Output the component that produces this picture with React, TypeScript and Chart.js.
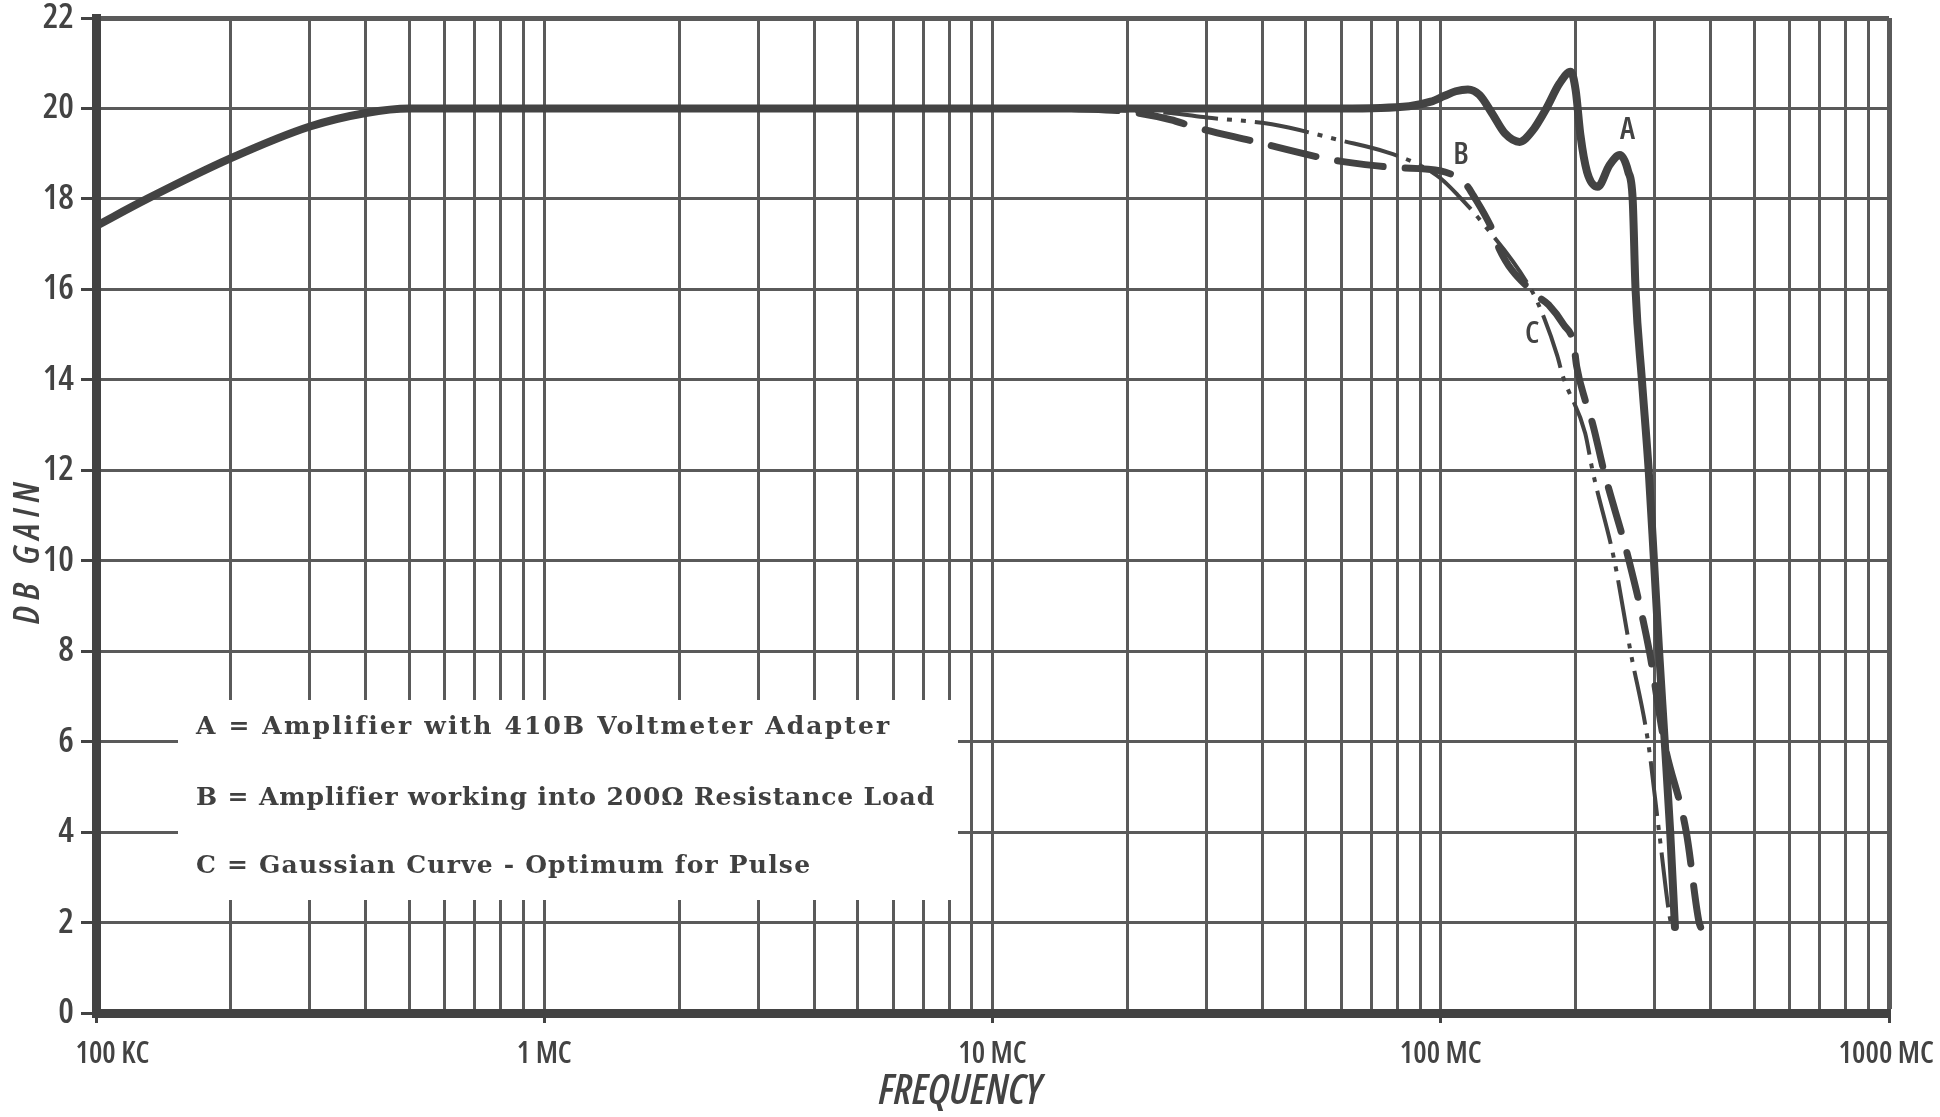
import React, { useEffect, useRef } from 'react';
import { Chart, registerables } from 'chart.js';

Chart.register(...registerables);

// ---- Data (frequency in MHz, gain in dB) ----
const freqA = [0.1, 0.13, 0.2, 0.3, 0.4, 0.5, 0.7, 1, 10, 60, 85, 95, 102, 108, 115, 122, 130, 139, 150, 160, 172, 184, 195, 200, 205, 212, 224, 238, 251, 262, 268, 272, 281, 291, 299, 307, 316, 325, 333];
const gainA = [17.4, 18.0, 18.9, 19.6, 19.9, 20.0, 20.0, 20.0, 20.0, 20.0, 20.05, 20.15, 20.28, 20.38, 20.42, 20.3, 19.9, 19.45, 19.26, 19.5, 20.0, 20.55, 20.81, 20.4, 19.4, 18.6, 18.27, 18.75, 18.97, 18.6, 18.0, 16.0, 14.0, 12.0, 10.0, 8.0, 6.0, 4.0, 1.9];

const freqB = [15, 20, 25, 28, 38, 56, 60, 80, 100, 114, 118, 132, 135, 162, 174, 188, 198, 201, 210, 218, 231, 263, 292, 315, 353, 377, 380];
const gainB = [20.0, 19.93, 19.75, 19.6, 19.28, 18.88, 18.83, 18.69, 18.62, 18.31, 18.09, 17.19, 16.9, 15.9, 15.66, 15.22, 14.79, 14.3, 13.55, 13.04, 12.0, 10.0, 8.0, 6.0, 4.0, 2.0, 1.9];

const freqC = [15, 20, 25, 30, 42, 60, 76, 90, 100, 109, 122, 160, 170, 182, 187, 210, 218, 244, 265, 290, 307, 326, 330];
const gainC = [20.0, 19.95, 19.9, 19.8, 19.65, 19.29, 19.03, 18.74, 18.45, 18.09, 17.55, 15.95, 15.37, 14.53, 14.1, 12.82, 12.0, 10.0, 8.0, 6.0, 4.0, 2.0, 1.9];

// ---- Axis ticks ----
const xDecades = [0.1, 1, 10, 100];
const xMultipliers = [1, 2, 3, 4, 5, 6, 7, 8, 9];
const xMax = 1000;
const xLabelValues = [0.1, 1, 10, 100, 1000];
const xLabelTexts = ['100 KC', '1 MC', '10 MC', '100 MC', '1000 MC'];
const yMin = 0;
const yMax = 22;
const yStep = 2;

// ---- Texts ----
const xTitle = 'FREQUENCY';
const yTitle = 'D B   G A I N';
const legendLines = [
  'A = Amplifier with 410B Voltmeter Adapter',
  'B = Amplifier working into 200Ω Resistance Load',
  'C = Gaussian Curve - Optimum for Pulse',
];
const curveLabels = ['A', 'B', 'C'];
const curveLabelFreq = [261, 111, 160];
const curveLabelGain = [19.52, 18.97, 15.02];

const SERIF = "'DejaVu Serif', 'Liberation Serif', serif";
const INK = '#434343';
const GRID = '#5a5a5a';

const xGridValues: number[] = [];
xDecades.forEach((d) => xMultipliers.forEach((m) => xGridValues.push(parseFloat((m * d).toPrecision(6)))));
xGridValues.push(xMax);

const isLabelValue = (v: number) => xLabelValues.findIndex((l) => Math.abs(l - v) / l < 1e-6);

type NarrowFont = { family: string; weight: string; condensed: boolean };

// find the narrowest sans face available on this machine
function pickNarrowFont(): NarrowFont {
  const c = document.createElement('canvas').getContext('2d') as CanvasRenderingContext2D;
  const test = '1000 MC 22 FREQUENCY GAIN';
  const w = (f: string) => {
    c.font = f;
    return c.measureText(test).width;
  };
  const exists = (fam: string) => w(`30px ${fam}, monospace`) !== w('30px monospace') || w(`30px ${fam}, serif`) !== w('30px serif');
  const named = ["'Liberation Sans Narrow'", "'Arial Narrow'", "'Roboto Condensed'", "'Open Sans Condensed'", "'Noto Sans Condensed'", "'DejaVu Sans Condensed'"];
  const stretchable = ["'Open Sans'", "'Noto Sans'", "'Roboto'", "'Inter'"];
  for (const fam of stretchable) {
    if (!exists(fam)) continue;
    const normal = w(`normal normal 30px ${fam}`);
    const cond = w(`normal extra-condensed 30px ${fam}`);
    if (cond < normal * 0.88) return { family: fam, weight: '600 extra-condensed', condensed: true };
  }
  for (const fam of named) {
    if (exists(fam)) return { family: fam, weight: 'normal', condensed: fam !== "'DejaVu Sans Condensed'" };
  }
  return { family: "'DejaVu Sans', sans-serif", weight: 'normal condensed', condensed: false };
}

export default function App() {
  const canvasRef = useRef<HTMLCanvasElement | null>(null);

  useEffect(() => {
    const canvas = canvasRef.current;
    if (!canvas) return;
    const nf = pickNarrowFont();
    const NARROW = nf.family;
    const WT = nf.weight;
    const k = nf.condensed ? 1 : 0.87;

    const overlayPlugin = {
      id: 'overlay',
      beforeDatasetsDraw(chart: any) {
        const ctx = chart.ctx as CanvasRenderingContext2D;
        ctx.save();
        // white legend panel over the grid
        ctx.fillStyle = '#ffffff';
        ctx.fillRect(178, 700, 780, 200);
        ctx.fillStyle = '#404040';
        ctx.font = `bold 25px ${SERIF}`;
        ctx.textBaseline = 'alphabetic';
        ctx.textAlign = 'left';
        const baselines = [734, 805, 873];
        const widths = [691, 736, 614];
        legendLines.forEach((t, i) => {
          (ctx as any).letterSpacing = '0px';
          const tw = ctx.measureText(t).width;
          const sp = (widths[i] - tw) / (t.length - 1);
          (ctx as any).letterSpacing = `${sp.toFixed(2)}px`;
          ctx.fillText(t, 196, baselines[i]);
        });
        (ctx as any).letterSpacing = '0px';
        ctx.restore();
      },
      afterDatasetsDraw(chart: any) {
        const ctx = chart.ctx as CanvasRenderingContext2D;
        const xs = chart.scales.x;
        const ys = chart.scales.y;
        ctx.save();
        ctx.fillStyle = INK;
        ctx.font = `${WT} ${Math.round(31 * k)}px ${NARROW}`;
        ctx.textAlign = 'center';
        ctx.textBaseline = 'middle';
        curveLabels.forEach((t, i) => {
          ctx.fillText(t, xs.getPixelForValue(curveLabelFreq[i]), ys.getPixelForValue(curveLabelGain[i]));
        });
        ctx.restore();
      },
    };

    const toPts = (xs: number[], ys: number[]) => xs.map((x, i) => ({ x, y: ys[i] }));
    const chart = new Chart(canvas, {
      type: 'line',
      data: {
        datasets: [
          {
            label: 'A',
            data: toPts(freqA, gainA),
            borderColor: INK,
            borderWidth: 8,
            pointRadius: 0,
            cubicInterpolationMode: 'monotone',
            borderCapStyle: 'round',
            borderJoinStyle: 'round',
          },
          {
            label: 'B',
            data: toPts(freqB, gainB),
            borderColor: INK,
            borderWidth: 7,
            pointRadius: 0,
            cubicInterpolationMode: 'monotone',
            borderDash: [46, 22],
            borderCapStyle: 'round',
          },
          {
            label: 'C',
            data: toPts(freqC, gainC),
            borderColor: INK,
            borderWidth: 4,
            pointRadius: 0,
            cubicInterpolationMode: 'monotone',
            borderDash: [55, 9, 5, 9, 5, 9],
          },
        ] as any,
      },
      options: {
        animation: false,
        responsive: false,
        devicePixelRatio: 1,
        layout: { padding: { left: 0, top: 18, right: 51, bottom: 0 } },
        plugins: { legend: { display: false }, tooltip: { enabled: false } },
        scales: {
          x: {
            type: 'logarithmic',
            min: 0.1,
            max: xMax,
            afterBuildTicks: (s: any) => {
              s.ticks = xGridValues.map((v) => ({ value: v }));
            },
            afterFit: (s: any) => {
              s.height = 104;
              s.paddingLeft = 0;
              s.paddingRight = 0;
            },
            ticks: {
              autoSkip: false,
              maxRotation: 0,
              minRotation: 0,
              padding: 13,
              color: INK,
              font: { family: NARROW, size: Math.round(30 * k), weight: WT },
              callback: (v: any) => {
                const i = isLabelValue(Number(v));
                if (i < 0) return '';
                if (i === 0) return '      ' + xLabelTexts[i];
                if (i === xLabelTexts.length - 1) return xLabelTexts[i] + ' ';
                return xLabelTexts[i];
              },
            },
            grid: {
              color: GRID,
              lineWidth: (c: any) => (c.tick && Math.abs(c.tick.value - xMax) < 1e-6 ? 5 : 3),
              drawTicks: true,
              tickLength: 10,
              tickWidth: 3,
              tickColor: (c: any) => (c.tick && isLabelValue(c.tick.value) >= 0 ? INK : 'rgba(0,0,0,0)'),
            },
            border: { display: true, width: 9, color: INK },
            title: {
              display: true,
              text: xTitle + '         ',
              color: INK,
              font: { family: NARROW, size: Math.round(42 * k), style: 'italic', weight: WT },
              padding: { top: 0, bottom: 0 },
            },
          },
          y: {
            type: 'linear',
            min: yMin,
            max: yMax,
            afterFit: (s: any) => {
              s.width = 96;
              s.paddingTop = 0;
              s.paddingBottom = 0;
            },
            ticks: {
              stepSize: yStep,
              padding: 7,
              color: INK,
              font: { family: NARROW, size: Math.round(35 * k), weight: WT },
              callback: (v: any) => String(v),
            },
            grid: {
              color: GRID,
              lineWidth: (c: any) => (c.tick && c.tick.value === yMax ? 5 : 3),
              drawTicks: true,
              tickLength: 15,
              tickWidth: 3,
              tickColor: INK,
            },
            border: { display: true, width: 9, color: INK },
            title: {
              display: true,
              text: yTitle + '            ',
              color: INK,
              font: { family: NARROW, size: Math.round(37 * k), style: 'italic', weight: WT },
              padding: { top: 6, bottom: 0 },
            },
          },
        },
      } as any,
      plugins: [overlayPlugin],
    });
    return () => chart.destroy();
  }, []);

  return (
    <div style={{ position: 'fixed', left: 0, top: 0, width: 1940, height: 1117, background: '#ffffff' }}>
      <canvas ref={canvasRef} width={1940} height={1117} style={{ display: 'block' }} />
    </div>
  );
}
